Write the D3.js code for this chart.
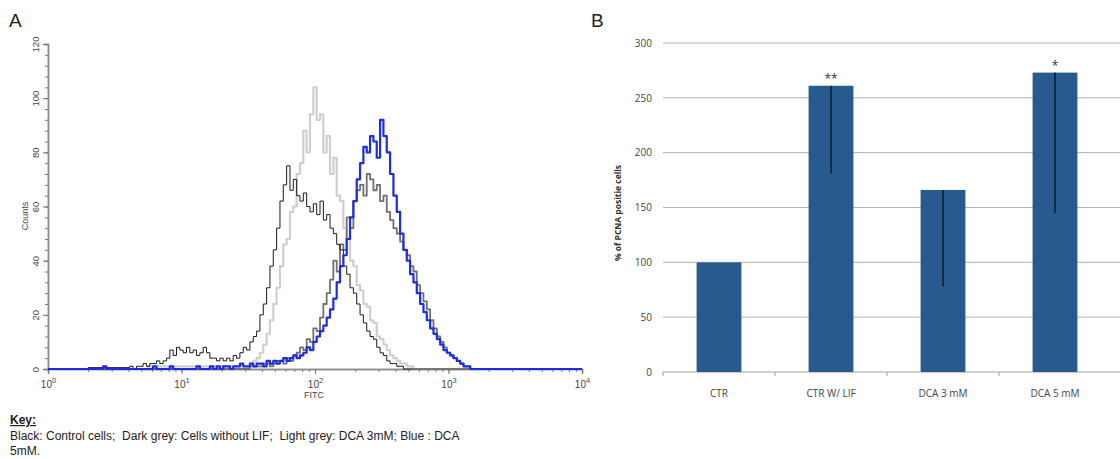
<!DOCTYPE html>
<html>
<head>
<meta charset="utf-8">
<script src="https://cdn.jsdelivr.net/npm/d3@7"></script>
<style>
  body { margin: 0; background: #fff; }
  svg text { white-space: pre; }
</style>
</head>
<body>
<svg id="chart" width="1120" height="459"></svg>
<script>
'use strict';

// ---- Panel A: FITC histograms (bins of 1/40 decade) ----
const fitcStep = 1 / 40;

const blackStart  = 24;
const blackCounts = [0.5, 1, 0, 1, 1, 2, 1, 2, 2, 3,
                     2, 3, 4, 7, 5, 8, 7, 6, 8, 6,
                     7, 5, 6, 8, 6, 4, 4, 3, 4, 3,
                     4, 3, 5, 4, 6, 8, 7, 10, 12, 14,
                     20, 24, 30, 38, 44, 52, 62, 68, 75, 66,
                     70, 64, 62, 65, 60, 58, 61, 57, 62, 55,
                     57, 52, 50, 46, 44, 38, 35, 30, 28, 24,
                     20, 17, 14, 12, 11, 8, 6, 5, 3, 2,
                     2, 1, 1, 0, 0];

const lightStart  = 60;
const lightCounts = [1, 2, 3, 4, 6, 9, 13, 18, 24, 30,
                     38, 46, 48, 58, 60, 72, 76, 88, 80, 94,
                     104, 92, 94, 80, 86, 72, 78, 64, 62, 52,
                     48, 40, 38, 31, 29, 24, 23, 18, 17, 12,
                     11, 9, 7, 5, 4, 3, 2, 2, 1, 1, 0];

const darkStart  = 60;
const darkCounts = [0, 1, 1, 1, 1, 2, 2, 1, 2, 3,
                    3, 2, 4, 3, 5, 6, 8, 7, 11, 10,
                    15, 14, 19, 24, 28, 33, 40, 36, 46, 44,
                    56, 52, 62, 66, 68, 64, 72, 70, 66, 68,
                    62, 64, 58, 55, 52, 50, 47, 44, 42, 38,
                    36, 31, 28, 25, 22, 18, 15, 12, 10, 8,
                    6, 5, 4, 3, 2, 1, 1, 0, 0];

const blueStart  = 10;
const blueCounts = [0, 0, 0, 0, 0, 0, 0, 1, 0, 0,
                    0, 0, 0, 0, 0, 0, 0, 0, 0, 0,
                    0, 0, 1, 0, 0, 0, 0, 1, 0, 0,
                    0, 0, 0, 0, 0, 1, 0, 0, 0, 1,
                    0, 1, 0, 1, 1, 0, 1, 1, 2, 1,
                    1, 2, 1, 2, 2, 1, 3, 2, 3, 2,
                    3, 4, 3, 4, 5, 4, 5, 6, 8, 7,
                    10, 12, 14, 16, 19, 22, 26, 32, 38, 42,
                    48, 56, 62, 70, 76, 82, 80, 86, 84, 78,
                    92, 86, 80, 72, 64, 58, 50, 44, 40, 35,
                    32, 28, 24, 21, 18, 15, 13, 11, 9, 7,
                    6, 5, 4, 3, 2, 1, 1, 0, 0];

const countTicks  = [0, 20, 40, 60, 80, 100, 120];
const fitcDecades = [0, 1, 2, 3, 4];

// ---- Panel B: PCNA bars ----
const pcnaGroups = ['CTR', 'CTR W/ LIF', 'DCA 3 mM', 'DCA 5 mM'];
const pcnaValues = [100, 261, 166, 273];
const pcnaErrors = [0, 80, 88, 128];
const pcnaStars  = ['', '**', '', '*'];
const pcnaTicks  = [0, 50, 100, 150, 200, 250, 300];

const keyLines = ['Black: Control cells;  Dark grey: Cells without LIF;  Light grey: DCA 3mM; Blue : DCA',
                  '5mM.'];


const svg = d3.select('#chart');

function histogramPoints(start, counts) {
    const pts = [[1, 0]];
    counts.forEach((c, i) => pts.push([Math.pow(10, (start + i) * fitcStep), c]));
    pts.push([1e4, 0]);
    return pts;
}

function drawPanelA() {
    const x = d3.scaleLog().domain([1, 1e4]).range([48, 582]),
          y = d3.scaleLinear().domain([0, 120]).range([369, 44]);
    const font = 'Liberation Sans, Arial, sans-serif';

    const g = svg.append('g');

    g.append('text').attr('x', 9).attr('y', 27)
        .attr('font-family', font).attr('font-size', 19).attr('fill', '#222')
        .text('A');

    // y axis, minor then major
    const yMinor = g.append('g').attr('transform', 'translate(48,0)')
        .call(d3.axisLeft(y).tickValues(d3.range(0, 121, 4)).tickSize(3).tickFormat(''));
    const yMajor = g.append('g').attr('transform', 'translate(48,0)')
        .call(d3.axisLeft(y).tickValues(countTicks).tickSize(5));
    yMajor.selectAll('text')
        .attr('font-family', font).attr('font-size', 9.5).attr('fill', '#444')
        .attr('text-anchor', 'middle').attr('x', 0).attr('y', 0).attr('dy', '0.35em')
        .attr('transform', 'translate(-12,0) rotate(-90)');

    // x axis
    const xMinor = g.append('g').attr('transform', 'translate(0,369)')
        .call(d3.axisBottom(x).tickValues(x.ticks()).tickSize(3).tickFormat(''));
    const xMajor = g.append('g').attr('transform', 'translate(0,369)')
        .call(d3.axisBottom(x).tickValues(fitcDecades.map(p => Math.pow(10, p))).tickSize(5));
    xMajor.selectAll('text').each(function(d, i) {
        const t = d3.select(this).text('')
            .attr('font-family', font).attr('font-size', 10).attr('fill', '#444')
            .attr('y', 19).attr('dy', 0);
        t.append('tspan').text('10');
        t.append('tspan').attr('dy', -5).attr('font-size', 7.5).text(fitcDecades[i]);
    });

    [yMinor, yMajor, xMinor, xMajor].forEach(a => {
        a.select('.domain').attr('stroke', '#8a8a8a').attr('stroke-width', 1.5);
        a.selectAll('.tick line').attr('stroke', '#777');
    });

    g.append('text')
        .attr('transform', 'translate(28,216) rotate(-90)')
        .attr('text-anchor', 'middle')
        .attr('font-family', font).attr('font-size', 9).attr('fill', '#444')
        .text('Counts');
    g.append('text').attr('x', 314).attr('y', 398)
        .attr('text-anchor', 'middle')
        .attr('font-family', font).attr('font-size', 9).attr('fill', '#444')
        .text('FITC');

    const line = d3.line()
        .x(d => x(d[0]))
        .y(d => y(d[1]))
        .curve(d3.curveStep);

    const series = [
        {start: lightStart, counts: lightCounts, color: '#cfcfcf', width: 2.2},
        {start: darkStart,  counts: darkCounts,  color: '#707070', width: 1.8},
        {start: blackStart, counts: blackCounts, color: '#1a1a1a', width: 1},
        {start: blueStart,  counts: blueCounts,  color: '#1c2de3', width: 2.2}
    ];

    g.selectAll('path.hist')
        .data(series)
        .enter()
        .append('path')
        .attr('class', 'hist')
        .attr('d', d => line(histogramPoints(d.start, d.counts)))
        .attr('fill', 'none')
        .attr('stroke', d => d.color)
        .attr('stroke-width', d => d.width)
        .attr('stroke-linejoin', 'round');

    // key below the plot
    g.append('text').attr('x', 10).attr('y', 424)
        .attr('font-family', font).attr('font-size', 12)
        .attr('font-weight', 'bold').attr('text-decoration', 'underline')
        .attr('fill', '#222')
        .text('Key:');
    g.selectAll('text.key')
        .data(keyLines)
        .enter()
        .append('text')
        .attr('class', 'key')
        .attr('x', 10)
        .attr('y', (d, i) => 440 + i * 14.5)
        .attr('font-family', font).attr('font-size', 12).attr('fill', '#222')
        .text(d => d);
}

function drawPanelB() {
    const x = d3.scaleBand().domain(pcnaGroups).range([663, 1111]),
          y = d3.scaleLinear().domain([0, 300]).range([372, 43]);
    const font = 'Open Sans, Noto Sans, sans-serif';
    const barW = x.bandwidth() * 0.4;

    const g = svg.append('g');

    g.append('text').attr('x', 591).attr('y', 27)
        .attr('font-family', 'Liberation Sans, Arial, sans-serif')
        .attr('font-size', 19).attr('fill', '#222')
        .text('B');

    // grid
    g.selectAll('line.grid')
        .data(pcnaTicks.slice(1))
        .enter()
        .append('line')
        .attr('class', 'grid')
        .attr('x1', 663).attr('x2', 1120)
        .attr('y1', d => y(d)).attr('y2', d => y(d))
        .attr('stroke', '#b4b4b4').attr('stroke-width', 1);

    const yAxis = g.append('g').attr('transform', 'translate(663,0)')
        .call(d3.axisLeft(y).tickValues(pcnaTicks).tickSize(0).tickPadding(11));
    yAxis.select('.domain').remove();
    yAxis.selectAll('text')
        .attr('font-family', font).attr('font-size', 10).attr('fill', '#444');

    // baseline with category ticks
    g.append('line')
        .attr('x1', 663).attr('x2', 1120)
        .attr('y1', y(0)).attr('y2', y(0))
        .attr('stroke', '#a0a0a0').attr('stroke-width', 1);
    g.selectAll('line.cat')
        .data(pcnaGroups)
        .enter()
        .append('line')
        .attr('class', 'cat')
        .attr('x1', d => x(d)).attr('x2', d => x(d))
        .attr('y1', y(0)).attr('y2', y(0) + 4)
        .attr('stroke', '#a0a0a0');

    g.selectAll('text.cat')
        .data(pcnaGroups)
        .enter()
        .append('text')
        .attr('class', 'cat')
        .attr('x', d => x(d) + x.bandwidth() / 2)
        .attr('y', 397)
        .attr('text-anchor', 'middle')
        .attr('font-family', font).attr('font-size', 10).attr('fill', '#444')
        .text(d => d);

    g.selectAll('rect.bar')
        .data(pcnaGroups)
        .enter()
        .append('rect')
        .attr('class', 'bar')
        .attr('x', d => x(d) + (x.bandwidth() - barW) / 2)
        .attr('y', (d, i) => y(pcnaValues[i]))
        .attr('width', barW)
        .attr('height', (d, i) => y(0) - y(pcnaValues[i]))
        .attr('fill', '#285b8d');

    // error bars (lower whisker only visible)
    g.selectAll('line.err')
        .data(pcnaGroups.filter((d, i) => pcnaErrors[i] > 0))
        .enter()
        .append('line')
        .attr('class', 'err')
        .attr('x1', d => x(d) + x.bandwidth() / 2)
        .attr('x2', d => x(d) + x.bandwidth() / 2)
        .attr('y1', d => y(pcnaValues[pcnaGroups.indexOf(d)]))
        .attr('y2', d => { const i = pcnaGroups.indexOf(d); return y(pcnaValues[i] - pcnaErrors[i]); })
        .attr('stroke', '#0c1a30').attr('stroke-width', 1.5);

    g.selectAll('text.star')
        .data(pcnaGroups)
        .enter()
        .append('text')
        .attr('class', 'star')
        .attr('x', d => x(d) + x.bandwidth() / 2)
        .attr('y', (d, i) => y(pcnaValues[i]) - 3)
        .attr('text-anchor', 'middle')
        .attr('font-family', font).attr('font-size', 12).attr('fill', '#333')
        .text((d, i) => pcnaStars[i]);

    g.append('text')
        .attr('transform', 'translate(621,213) rotate(-90)')
        .attr('text-anchor', 'middle')
        .attr('font-family', font).attr('font-size', 8.5)
        .attr('font-weight', 'bold').attr('fill', '#333')
        .text('% of PCNA positie cells');
}

function main() {
    drawPanelA();
    drawPanelB();
}

main();
</script>
</body>
</html>
